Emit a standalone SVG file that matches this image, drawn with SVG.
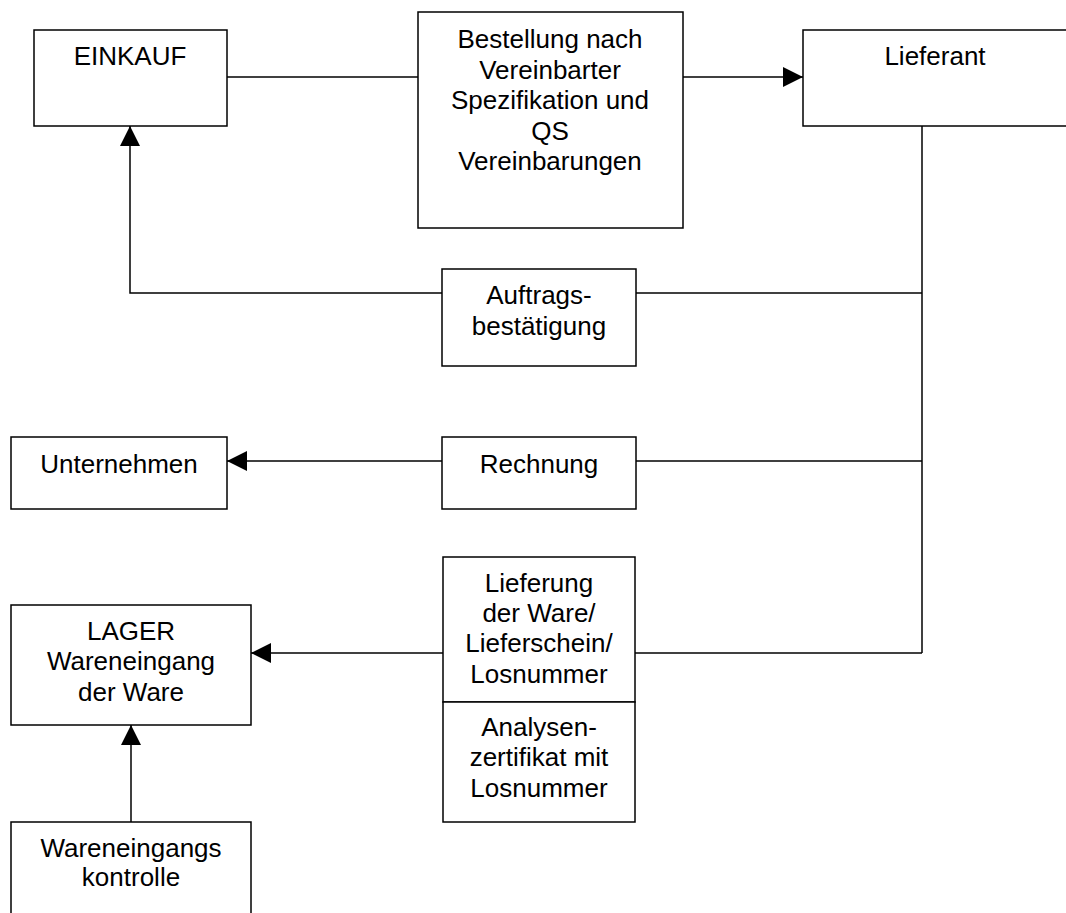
<svg xmlns="http://www.w3.org/2000/svg" width="1066" height="913" viewBox="0 0 1066 913">
<style>
.box{fill:#fff;stroke:#000;stroke-width:1.5}
.ln{fill:none;stroke:#000;stroke-width:1.5}
text{font-family:"Liberation Sans",Arial,sans-serif;font-size:26px;fill:#000;text-anchor:middle}
</style>
<defs>
<marker id="arr" markerWidth="20" markerHeight="20" refX="20" refY="10" orient="auto" markerUnits="userSpaceOnUse" viewBox="0 0 20 20">
<path d="M0,0 L20,10 L0,20 Z" fill="#000"/>
</marker>
</defs>
<rect width="1066" height="913" fill="#fff"/>
<g id="connectors">
<line class="ln" x1="227" y1="77" x2="418" y2="77"/>
<line class="ln" x1="683" y1="77" x2="803" y2="77" marker-end="url(#arr)"/>
<line class="ln" x1="922" y1="126" x2="922" y2="653"/>
<line class="ln" x1="922" y1="293" x2="636" y2="293"/>
<polyline class="ln" points="442,293 130,293 130,126" marker-end="url(#arr)"/>
<line class="ln" x1="922" y1="461" x2="636" y2="461"/>
<line class="ln" x1="442" y1="461" x2="227" y2="461" marker-end="url(#arr)"/>
<line class="ln" x1="922" y1="653" x2="635" y2="653"/>
<line class="ln" x1="443" y1="653" x2="251" y2="653" marker-end="url(#arr)"/>
<line class="ln" x1="131" y1="822" x2="131" y2="725" marker-end="url(#arr)"/>
</g>
<g id="einkauf">
<rect class="box" x="34" y="30" width="193" height="96"/>
<text x="130" y="65">EINKAUF</text>
</g>
<g id="bestellung">
<rect class="box" x="418" y="12" width="265" height="216"/>
<text x="550" y="48">Bestellung nach</text>
<text x="550" y="78.5">Vereinbarter</text>
<text x="550" y="109">Spezifikation und</text>
<text x="550" y="139.5">QS</text>
<text x="550" y="170">Vereinbarungen</text>
</g>
<g id="lieferant">
<rect class="box" x="803" y="30" width="270" height="96"/>
<text x="935" y="65">Lieferant</text>
</g>
<g id="auftrag">
<rect class="box" x="442" y="269" width="194" height="97"/>
<text x="539" y="304">Auftrags-</text>
<text x="539" y="335">bestätigung</text>
</g>
<g id="rechnung">
<rect class="box" x="442" y="437" width="194" height="72"/>
<text x="539" y="473">Rechnung</text>
</g>
<g id="unternehmen">
<rect class="box" x="11" y="437" width="216" height="72"/>
<text x="119" y="473">Unternehmen</text>
</g>
<g id="lieferung">
<rect class="box" x="443" y="557" width="192" height="145"/>
<text x="539" y="592">Lieferung</text>
<text x="539" y="622">der Ware/</text>
<text x="539" y="652">Lieferschein/</text>
<text x="539" y="683">Losnummer</text>
</g>
<g id="analysen">
<rect class="box" x="443" y="702" width="192" height="120"/>
<text x="539" y="736">Analysen-</text>
<text x="539" y="766">zertifikat mit</text>
<text x="539" y="797">Losnummer</text>
</g>
<g id="lager">
<rect class="box" x="11" y="605" width="240" height="120"/>
<text x="131" y="640">LAGER</text>
<text x="131" y="670">Wareneingang</text>
<text x="131" y="701">der Ware</text>
</g>
<g id="kontrolle">
<rect class="box" x="11" y="822" width="240" height="100"/>
<text x="131" y="857">Wareneingangs</text>
<text x="131" y="886">kontrolle</text>
</g>
</svg>
